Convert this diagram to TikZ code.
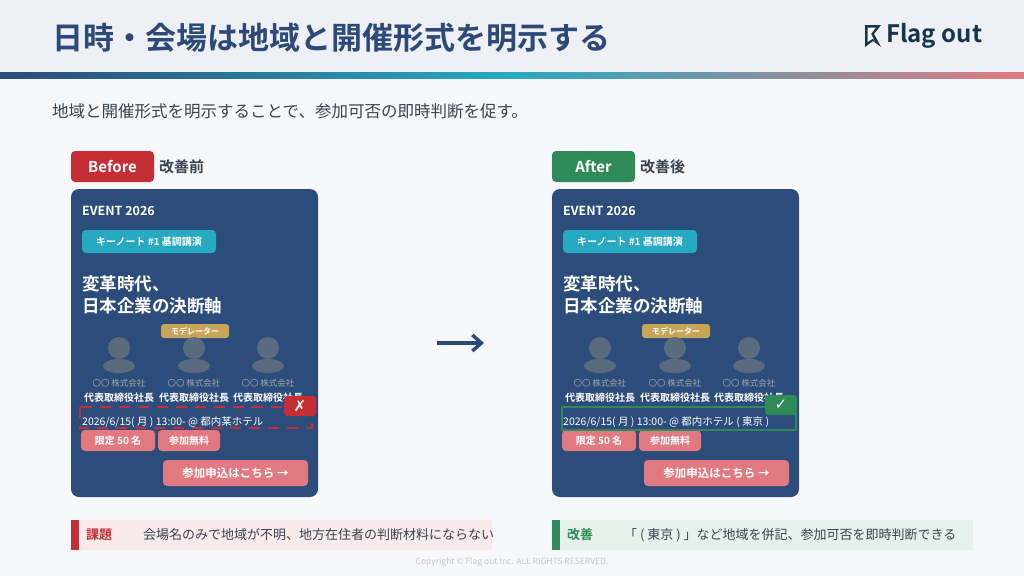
\documentclass[tikz,border=0pt]{standalone}
\usepackage{fontspec}
\setmainfont{Noto Sans CJK JP}[BoldFont={Noto Sans CJK JP Bold}]
\newfontfamily\symfont{DejaVu Sans}
\usetikzlibrary{positioning,arrows.meta}
\definecolor{navy}{HTML}{2C4C7C}
\definecolor{titleblue}{HTML}{2B4A7A}
\definecolor{hdrbg}{HTML}{EEF0F5}
\definecolor{pagebg}{HTML}{F7F8FB}
\definecolor{badred}{HTML}{C62E35}
\definecolor{goodgreen}{HTML}{2E8B57}
\definecolor{teal}{HTML}{28A9C2}
\definecolor{gold}{HTML}{C9A55C}
\definecolor{pinkbtn}{HTML}{E07A80}
\definecolor{avatar}{HTML}{5B6B7E}
\definecolor{txtgray}{HTML}{3A4350}
\definecolor{logo}{HTML}{14354E}

\tikzset{
  pill/.style={rounded corners=3pt, inner sep=0pt, text=white, font=\bfseries\fontsize{10}{12}\selectfont},
  cardtext/.style={anchor=west, inner sep=0pt, text=white},
}

% one event card, #1 = x offset, #2 = place text
\newcommand\eventcard[2]{
  \begin{scope}[xshift=#1]
    \fill[navy, rounded corners=8pt] (71,189) rectangle (318,497);
    \node[cardtext, font=\bfseries\fontsize{12.5}{14}\selectfont] (ev) at (82,211) {EVENT 2026};
    \fill[teal, rounded corners=4pt] (82,230) rectangle (216,253);
    \node[pill] (kn) at (149,241.5) {キーノート \#1 基調講演};
    \node[cardtext, font=\bfseries\fontsize{17.5}{22}\selectfont, align=left] (ttl) at (82,295) {変革時代、\\日本企業の決断軸};
    \fill[gold, rounded corners=3pt] (161,324) rectangle (229,338);
    \node[pill, font=\bfseries\fontsize{8}{9}\selectfont] (mod) at (195,331) {モデレーター};
    \foreach \ax/\nm in {119/a, 194/b, 268/c}{
      \fill[avatar] (\ax,348) circle (11);
      \fill[avatar] (\ax,366) ellipse (16 and 7);
      \node[text=gray!70, font=\fontsize{8.5}{10}\selectfont] (co\nm) at (\ax,383) {〇〇 株式会社};
      \node[text=white, font=\bfseries\fontsize{10}{12}\selectfont] (ps\nm) at (\ax,398) {代表取締役社長};
    }
    \node[cardtext, font=\fontsize{10.5}{12}\selectfont] (dt) at (82,422) {#2};
    \fill[pinkbtn, rounded corners=4pt] (81,430) rectangle (155,451);
    \node[pill] (lim) at (118,440.5) {限定 50 名};
    \fill[pinkbtn, rounded corners=4pt] (158,430) rectangle (220,451);
    \node[pill] (free) at (189,440.5) {参加無料};
    \fill[pinkbtn, rounded corners=4pt] (163,460) rectangle (308,486);
    \node[pill, font=\bfseries\fontsize{11.5}{13}\selectfont] (btn) at (235.5,473) {参加申込はこちら →};
  \end{scope}
}

\begin{document}
\begin{tikzpicture}[x=1pt, y=-1pt]
\useasboundingbox (0,0) rectangle (1024,576);
\fill[pagebg] (0,0) rectangle (1024,576);
% header
\fill[hdrbg] (0,0) rectangle (1024,72);
\shade[left color=titleblue, right color=teal] (0,72) rectangle (512,78);
\shade[left color=teal, right color=pinkbtn] (512,72) rectangle (1024,78);
\node[anchor=west, inner sep=0pt, text=titleblue, font=\bfseries\fontsize{31}{36}\selectfont] (head) at (52,38) {日時・会場は地域と開催形式を明示する};
\fill[logo] (865,25) -- (881,25) -- (874,34) -- (881,47) -- (873,41) -- (865,47) -- cycle;
\fill[white] (867.5,27.5) -- (876,27.5) -- (871,34) -- (875,42) -- (873,38.5) -- (867.5,42) -- cycle;
\node[anchor=west, inner sep=0pt, text=logo, font=\bfseries\fontsize{24}{28}\selectfont] (brand) at (886,36) {Flag out};
\node[anchor=west, inner sep=0pt, text=txtgray, font=\fontsize{16.5}{20}\selectfont] (sub) at (52,111) {地域と開催形式を明示することで、参加可否の即時判断を促す。};

% before
\fill[badred, rounded corners=4pt] (71,151) rectangle (154,182);
\node[text=white, font=\bfseries\fontsize{15}{17}\selectfont] (bf) at (112.5,166.5) {Before};
\node[anchor=west, inner sep=0pt, text=txtgray, font=\bfseries\fontsize{15}{17}\selectfont] (bfj) at (159,167) {改善前};
\eventcard{0}{2026/6/15( 月 ) 13:00- @ 都内某ホテル}
\draw[badred, line width=2.5pt, dash pattern=on 11pt off 8pt] (80,407) rectangle (312,428);
\fill[badred, rounded corners=3pt] (284,396) rectangle (316,416);
\node[text=white, font=\symfont\bfseries\fontsize{15}{17}\selectfont] (xm) at (300,406) {✗};

% after
\fill[goodgreen, rounded corners=4pt] (552,151) rectangle (635,182);
\node[text=white, font=\bfseries\fontsize{15}{17}\selectfont] (af) at (593.5,166.5) {After};
\node[anchor=west, inner sep=0pt, text=txtgray, font=\bfseries\fontsize{15}{17}\selectfont] (afj) at (640,167) {改善後};
\eventcard{481}{2026/6/15( 月 ) 13:00- @ 都内ホテル ( 東京 )}
\draw[goodgreen, line width=2pt] (562,407) rectangle (796,430);
\fill[goodgreen, rounded corners=3pt] (765,395) rectangle (797,415);
\node[text=white, font=\symfont\bfseries\fontsize{15}{17}\selectfont] (ck) at (781,405) {✓};

% arrow between cards
\coordinate (arL) at (437,343);
\coordinate (arR) at (484,343);
\draw[titleblue, line width=3.5pt, -{Straight Barb[length=9pt, width=16pt, line width=3.5pt]}] (arL) -- (arR);

% notes
\fill[badred!10] (71,520) rectangle (492,550);
\fill[badred] (71,520) rectangle (79,550);
\node[anchor=west, inner sep=0pt, text=badred, font=\bfseries\fontsize{13}{15}\selectfont] (nb) at (86,535) {課題};
\node[anchor=west, inner sep=0pt, text=txtgray, font=\fontsize{13}{15}\selectfont] (nbt) at (143,535) {会場名のみで地域が不明、地方在住者の判断材料にならない};
\fill[goodgreen!12] (552,520) rectangle (973,550);
\fill[goodgreen] (552,520) rectangle (560,550);
\node[anchor=west, inner sep=0pt, text=goodgreen, font=\bfseries\fontsize{13}{15}\selectfont] (na) at (567,535) {改善};
\node[anchor=west, inner sep=0pt, text=txtgray, font=\fontsize{13}{15}\selectfont] (nat) at (624,535) {「 ( 東京 ) 」など地域を併記、参加可否を即時判断できる};
\node[text=gray!45, font=\fontsize{8.5}{10}\selectfont] (copy) at (512,562) {Copyright © Flag out Inc. ALL RIGHTS RESERVED.};
\end{tikzpicture}
\end{document}
